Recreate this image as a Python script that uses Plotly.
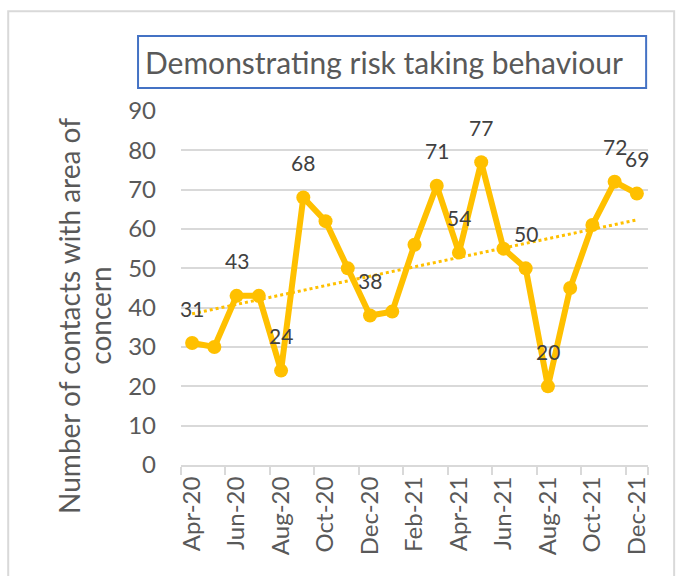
import plotly.graph_objects as go
import numpy as np

months = ["Apr-20", "May-20", "Jun-20", "Jul-20", "Aug-20", "Sep-20", "Oct-20",
          "Nov-20", "Dec-20", "Jan-21", "Feb-21", "Mar-21", "Apr-21", "May-21",
          "Jun-21", "Jul-21", "Aug-21", "Sep-21", "Oct-21", "Nov-21", "Dec-21"]
contacts = [31, 30, 43, 43, 24, 68, 62, 50, 38, 39, 56, 71, 54, 77, 55, 50, 20, 45, 61, 72, 69]
labelled = ["Apr-20", "Jun-20", "Aug-20", "Sep-20", "Dec-20", "Mar-21", "Apr-21",
            "May-21", "Jul-21", "Aug-21", "Nov-21", "Dec-21"]
tick_months = months[::2]

# linear trendline like Excel's
idx = np.arange(len(contacts))
slope, intercept = np.polyfit(idx, contacts, 1)
trend = slope * idx + intercept

FONT = "Lato"
GREY = "#595959"
GOLD = "#FFC000"

fig = go.Figure()

fig.add_trace(go.Scatter(
    x=months, y=trend, mode="lines",
    line=dict(color=GOLD, width=3, dash="dot"),
    hoverinfo="skip", showlegend=False
))

fig.add_trace(go.Scatter(
    x=months, y=contacts, mode="lines+markers",
    line=dict(color=GOLD, width=6),
    marker=dict(color=GOLD, size=14),
    showlegend=False
))

for m, v in zip(months, contacts):
    if m in labelled:
        fig.add_annotation(
            x=m, y=v, text=str(v), showarrow=False, yshift=35,
            font=dict(family=FONT, size=21, color="#404040")
        )

# title box
fig.add_shape(type="rect", xref="paper", yref="paper",
              x0=-0.092, x1=0.996, y0=1.065, y1=1.212,
              line=dict(color="#4472C4", width=2), fillcolor="white")
fig.add_annotation(
    xref="paper", yref="paper", x=0.435, y=1.138,
    xanchor="center", yanchor="middle",
    text="Demonstrating risk taking behaviour", showarrow=False,
    font=dict(family=FONT, size=30, color=GREY)
)

# y-axis title, two lines placed separately
for txt, xpos in [("Number of contacts with area of", -0.240), ("concern", -0.174)]:
    fig.add_annotation(
        xref="paper", yref="paper", x=xpos, y=0.421, textangle=-90,
        xanchor="center", yanchor="middle",
        text=txt, showarrow=False,
        font=dict(family=FONT, size=28, color=GREY)
    )

# chart outer border
fig.add_shape(type="rect", xref="paper", yref="paper",
              x0=-0.370, x1=1.056, y0=-0.34, y1=1.282,
              line=dict(color="#d9d9d9", width=2), layer="below")

fig.update_layout(
    width=681, height=576,
    margin=dict(l=181, r=33, t=111, b=111),
    paper_bgcolor="white", plot_bgcolor="white",
    font=dict(family=FONT, color=GREY),
    xaxis=dict(
        type="category", tickmode="array", tickvals=tick_months,
        tickangle=-90, tickfont=dict(size=24, color=GREY),
        tickson="boundaries", ticks="outside", ticklen=8,
        tickcolor="#d9d9d9", tickwidth=2, automargin=False,
        showline=True, linecolor="#d9d9d9", linewidth=2,
        showgrid=False, range=[-0.5, len(months) - 0.5]
    ),
    yaxis=dict(
        range=[0, 90], dtick=10, tickfont=dict(size=24, color=GREY),
        showgrid=True, gridcolor="#d9d9d9", gridwidth=2, automargin=False,
        zeroline=False, ticks="", ticklabelstandoff=24
    )
)

fig.write_html("out.html", config={"displayModeBar": False},
               post_script="document.body.style.margin='0';")
